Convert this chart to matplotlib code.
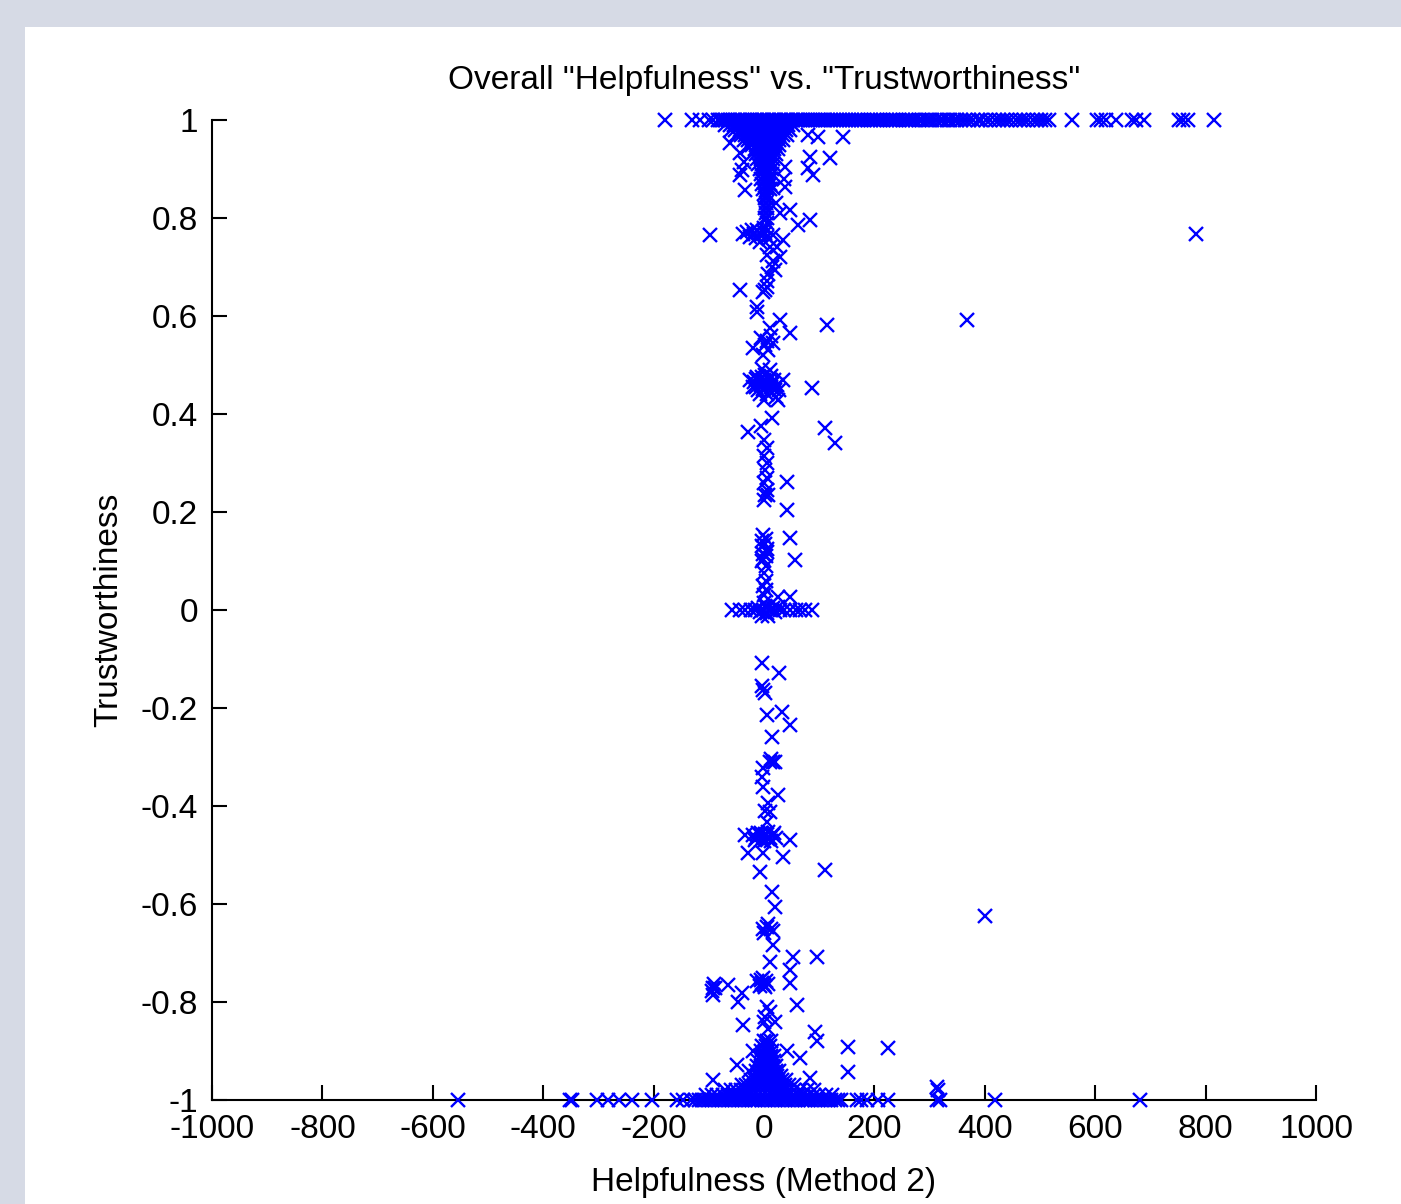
import matplotlib
matplotlib.use("Agg")
import matplotlib.pyplot as plt
from matplotlib.patches import Rectangle
import numpy as np

plt.rcParams["font.family"] = ["Liberation Sans Narrow", "Liberation Sans", "DejaVu Sans"]
plt.rcParams["axes.unicode_minus"] = False

# ---- data ------------------------------------------------------------------
# points sitting exactly on trust = 1
top_x = [-179, -130, -116, -100, -92,
         -83, -79, -74, -70, -65, -61, -57, -52, -48, -43, -39, -35, -30, -26,
         -21, -17, -13, -8, -4, 0, 5, 9, 14, 18, 22, 27, 31, 36, 40, 44, 49,
         53, 58, 62, 66, 71, 75, 80, 84, 88, 93, 97, 102, 106, 111, 116, 121,
         127, 132, 138, 143, 149, 154, 160, 165, 171, 176, 182, 188, 193, 199,
         205, 210, 216, 222, 228, 233, 239, 245, 251, 257, 263, 268, 274, 280,
         286, 293, 299, 305, 312, 318, 324, 331, 337, 344, 350,
         357, 364, 372, 379, 387, 394, 403, 410, 418, 425, 433, 441, 448, 456,
         463, 471, 478, 487, 494, 502, 509, 517,
         558, 604, 611, 620, 638, 666, 674, 688, 751, 759, 768, 815]

# dense funnel just below trust = 1: (trust, [helpfulness ...])
funnel_rows = [
    (0.99, [-70, -62, -55, -47, -40, -33, -26, -19, -12, -5, 2, 9, 16, 23, 30, 37, 44, 52]),
    (0.98, [-60, -52, -44, -37, -30, -23, -16, -9, -2, 5, 12, 19, 26, 33, 40, 47]),
    (0.97, [-50, -42, -35, -28, -21, -14, -7, 0, 7, 14, 21, 28, 35, 42]),
    (0.96, [-36, -29, -22, -15, -8, -1, 6, 13, 20, 27, 34]),
    (0.95, [-22, -15, -8, -1, 6, 13, 20, 28]),
    (0.94, [-17, -10, -3, 4, 11, 18, 25]),
    (0.93, [-14, -7, 0, 7, 14, 21]),
    (0.92, [-12, -5, 2, 9, 17]),
    (0.91, [-10, -3, 4, 11, 17]),
    (0.90, [-8, -1, 6, 15]),
    (0.89, [-6, 1, 8, 14]),
    (0.88, [-5, 2, 9, 13]),
    (0.87, [-3, 4, 11]),
    (0.86, [-2, 5, 10]),
    (0.85, [0, 6]),
    (0.84, [1, 6]),
    (0.83, [3]),
    (0.82, [2, 6]),
    (0.81, [4]),
    (0.80, [1, 5]),
]

# scattered points, upper half
upper_pts = [
    (-62, 0.953), (-43, 0.933), (-29, 0.945), (-40, 0.898), (-43, 0.888),
    (-36, 0.915), (-34, 0.857), (-98, 0.765),
    (80, 0.969), (98, 0.965), (143, 0.965), (120, 0.922), (83, 0.924),
    (89, 0.888), (80, 0.902), (38, 0.904), (36, 0.88), (38, 0.863),
    (16, 0.861), (47, 0.816), (62, 0.786), (83, 0.796), (29, 0.81),
    (22, 0.83), (34, 0.755), (24, 0.741), (29, 0.72), (20, 0.694),
    (14, 0.70), (5, 0.725), (10, 0.74), (16, 0.712),
    (-38, 0.767), (-30, 0.772), (-25, 0.762), (-18, 0.768), (-12, 0.775),
    (-5, 0.765), (2, 0.77), (9, 0.758), (16, 0.765), (-8, 0.752), (0, 0.78),
    (6, 0.79), (-22, 0.775), (-15, 0.76), (-2, 0.773), (5, 0.762),
    (-43, 0.653), (2, 0.653), (5, 0.66), (-1, 0.648), (-13, 0.618),
    (5, 0.672), (8, 0.685),
    (-13, 0.608), (11, 0.576), (29, 0.592), (47, 0.565), (114, 0.582),
    (368, 0.592), (783, 0.767), (-20, 0.535), (-5, 0.555), (5, 0.548),
    (12, 0.56), (2, 0.541), (16, 0.545), (8, 0.53), (-2, 0.52),
    (-25, 0.47), (-18, 0.465), (-12, 0.475), (-6, 0.46), (0, 0.47),
    (6, 0.465), (12, 0.455), (18, 0.47), (-20, 0.455), (-10, 0.448),
    (2, 0.48), (10, 0.49), (-4, 0.492), (24, 0.46), (35, 0.47), (28, 0.45),
    (87, 0.453), (-8, 0.44), (6, 0.44), (22, 0.435),
    (-15, 0.472), (-9, 0.468), (-3, 0.476), (3, 0.458), (9, 0.472),
    (15, 0.462), (-14, 0.456), (-2, 0.452), (12, 0.478), (20, 0.45),
    (0, 0.429), (25, 0.429), (14, 0.392), (-29, 0.363), (-5, 0.375),
    (110, 0.371), (129, 0.341),
    (0, 0.347), (5, 0.33), (0, 0.315), (5, 0.3), (1, 0.285), (6, 0.27),
    (0, 0.26), (5, 0.245), (2, 0.235), (42, 0.262), (7, 0.235),
    (42, 0.204), (0, 0.225),
    (-2, 0.153), (47, 0.147), (56, 0.102), (-4, 0.14), (4, 0.145),
    (-3, 0.13), (5, 0.125), (-2, 0.115), (4, 0.11), (-4, 0.1), (3, 0.09),
    (0, 0.075), (4, 0.06), (-2, 0.05), (3, 0.04), (0, 0.03), (25, 0.027),
    (47, 0.027), (1, 0.135), (6, 0.118), (-1, 0.105),
]

# points around trust = 0
zero_pts = [
    (-58, 0), (-44, 0), (-34, 0), (-24, 0), (-16, 0), (-10, 0.005),
    (-7, -0.005), (-2, 0), (2, 0.008), (6, -0.006), (11, 0), (16, 0.004),
    (20, -0.004), (25, 0.006), (29, 0), (36, 0), (47, 0), (58, 0), (65, 0),
    (74, 0), (87, 0), (0, 0.015), (8, -0.012), (-4, -0.012), (14, 0.014),
]

# scattered points, lower half
lower_pts = [
    (-4, -0.108), (27, -0.128), (-2, -0.163), (2, -0.17), (-4, -0.155),
    (5, -0.214), (33, -0.208), (47, -0.235), (14, -0.259), (16, -0.31),
    (10, -0.31), (20, -0.31), (12, -0.305), (-2, -0.322), (-4, -0.34),
    (-2, -0.361), (25, -0.378), (7, -0.394), (2, -0.41), (11, -0.413),
    (5, -0.433),
    (-20, -0.46), (-14, -0.465), (-8, -0.46), (-2, -0.465), (4, -0.46),
    (10, -0.465), (16, -0.46), (22, -0.465), (-17, -0.47), (0, -0.472),
    (12, -0.472), (-5, -0.455), (8, -0.454), (-34, -0.459), (47, -0.47),
    (-11, -0.456), (-5, -0.47), (7, -0.468), (19, -0.455), (1, -0.457),
    (-29, -0.496), (-2, -0.496), (34, -0.504), (-7, -0.535), (110, -0.531),
    (14, -0.576), (20, -0.606), (400, -0.624),
    (5, -0.647), (-2, -0.65), (12, -0.652), (8, -0.64), (0, -0.66),
    (16, -0.655), (16, -0.684), (11, -0.718), (52, -0.708), (96, -0.708),
    (47, -0.735), (47, -0.761),
    (-4, -0.761), (-12, -0.758), (4, -0.757), (-8, -0.768), (2, -0.77),
    (-2, -0.75), (8, -0.764), (-6, -0.755), (0, -0.765), (-92, -0.771),
    (-94, -0.778), (-90, -0.764),
    (-92, -0.785), (-88, -0.772), (-65, -0.765), (-40, -0.782), (-47, -0.8),
    (60, -0.806), (-38, -0.847), (5, -0.81), (2, -0.83), (10, -0.82),
    (0, -0.84), (8, -0.855), (20, -0.84), (92, -0.861), (96, -0.88),
    (152, -0.892), (225, -0.894), (152, -0.943), (-49, -0.929), (65, -0.914),
    (42, -0.9), (83, -0.955), (-92, -0.959), (313, -0.973), (316, -0.98),
    (-20, -0.9), (-28, -0.94),
]

# dense blob just above trust = -1
bottom_rows = [
    (-0.88, [0, 6, 12]),
    (-0.89, [-4, 3, 10]),
    (-0.90, [-6, 1, 8, 15]),
    (-0.91, [-8, -1, 6, 13, 18]),
    (-0.92, [-10, -3, 4, 11, 18]),
    (-0.93, [-12, -5, 2, 9, 16, 22]),
    (-0.94, [-14, -7, 0, 7, 14, 21, 27]),
    (-0.95, [-18, -11, -4, 3, 10, 17, 24, 31]),
    (-0.96, [-24, -17, -10, -3, 4, 11, 18, 25, 32, 40]),
    (-0.97, [-40, -32, -25, -18, -11, -4, 3, 10, 17, 24, 31, 38, 46, 55]),
    (-0.98, [-70, -60, -50, -42, -34, -26, -18, -10, -2, 6, 14, 22, 30, 38,
             46, 55, 65, 78, 90]),
    (-0.99, [-105, -95, -85, -75, -65, -56, -47, -38, -29, -20, -11, -2, 7,
             16, 25, 34, 43, 52, 61, 70, 80, 90, 100, 112, 124]),
]

# points sitting exactly on trust = -1
bottom_x = [-554, -351, -348, -302, -283, -262, -239, -203, -158, -146, -133,
            -125, -118, -112, -106, -100, -94, -88, -82, -76, -70, -64, -58,
            -52, -46, -40, -34, -28, -22, -16, -10, -4, 2, 8, 14, 20, 26, 32,
            38, 44, 50, 56, 62, 68, 74, 80, 86, 92, 98, 104, 110, 116, 122,
            128, 134, 140, 168, 176, 186, 206, 225, 313, 319, 418, 681]

xticks = [-1000, -800, -600, -400, -200, 0, 200, 400, 600, 800, 1000]
yticks = [-1, -0.8, -0.6, -0.4, -0.2, 0, 0.2, 0.4, 0.6, 0.8, 1]
ytick_labels = ["-1", "-0.8", "-0.6", "-0.4", "-0.2", "0",
                "0.2", "0.4", "0.6", "0.8", "1"]


def collect():
    xs, ys = list(top_x), [1.0] * len(top_x)
    for rows in (funnel_rows, bottom_rows):
        for yv, row in rows:
            xs += row
            ys += [yv] * len(row)
    for pts in (upper_pts, zero_pts, lower_pts):
        xs += [p[0] for p in pts]
        ys += [p[1] for p in pts]
    xs += bottom_x
    ys += [-1.0] * len(bottom_x)
    return np.array(xs, float), np.array(ys, float)


def main():
    fig = plt.figure(figsize=(14.01, 12.04), dpi=100)
    fig.patch.set_facecolor("#d6dae5")
    # white figure panel behind the axes
    panel = Rectangle((25 / 1401, 0), 1, 1 - 27 / 1204,
                      transform=fig.transFigure, facecolor="white",
                      edgecolor="none", zorder=-10)
    fig.add_artist(panel)

    ax = fig.add_axes([212 / 1401, 104 / 1204, 1104 / 1401, 980 / 1204])
    ax.patch.set_alpha(0)

    x, y = collect()
    ax.plot(x, y, "x", color="#0000ff", ms=9.5, mew=1.7, clip_on=False,
            zorder=5)

    ax.set_xlim(-1000, 1000)
    ax.set_ylim(-1, 1)
    ax.set_xticks(xticks)
    ax.set_xticklabels([str(v) for v in xticks])
    ax.set_yticks(yticks)
    ax.set_yticklabels(ytick_labels)

    for side in ("top", "right"):
        ax.spines[side].set_visible(False)
    for side in ("left", "bottom"):
        ax.spines[side].set_linewidth(1.5)
        ax.spines[side].set_color("black")
    ax.tick_params(direction="in", length=11, width=1.5, labelsize=24,
                   pad=10, colors="black")

    ax.set_title('Overall "Helpfulness" vs. "Trustworthiness"', fontsize=24,
                 pad=22)
    ax.set_xlabel("Helpfulness (Method 2)", fontsize=24, labelpad=16)
    ax.set_ylabel("Trustworthiness", fontsize=24, labelpad=12)

    fig.savefig("out.png", dpi=100, facecolor=fig.get_facecolor())


if __name__ == "__main__":
    main()
